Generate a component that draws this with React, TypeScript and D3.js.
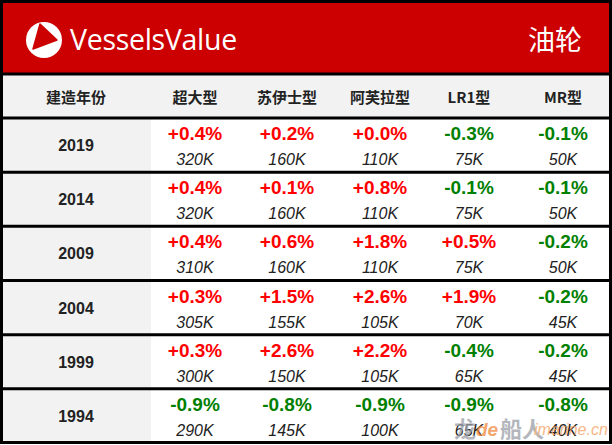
import React from "react";
import * as d3 from "d3";

const years = ["2019", "2014", "2009", "2004", "1999", "1994"];
const columns = ["超大型", "苏伊士型", "阿芙拉型", "LR1型", "MR型"];
const pctChange = [
  [0.4, 0.2, 0.0, -0.3, -0.1],
  [0.4, 0.1, 0.8, -0.1, -0.1],
  [0.4, 0.6, 1.8, 0.5, -0.2],
  [0.3, 1.5, 2.6, 1.9, -0.2],
  [0.3, 2.6, 2.2, -0.4, -0.2],
  [-0.9, -0.8, -0.9, -0.9, -0.8],
];
const valuesK = [
  [320, 160, 110, 75, 50],
  [320, 160, 110, 75, 50],
  [310, 160, 110, 75, 50],
  [305, 155, 105, 70, 45],
  [300, 150, 105, 65, 45],
  [290, 145, 100, 65, 40],
];
const yearHeader = "建造年份";
const title = "油轮";
const brand = "VesselsValue";

const W = 612;
const H = 445;

export default function App() {
  const rowY = d3.scaleBand<string>().domain(years).range([118, 443]).paddingInner(0);
  const colCenters = [195, 287, 380, 469, 563];
  const colX = d3.scaleOrdinal<string, number>().domain(columns).range(colCenters);
  const rh = rowY.bandwidth();
  const cjk = "'Noto Sans CJK SC', 'Noto Sans', sans-serif";
  const arial = "'Liberation Sans', Arial, sans-serif";
  const fmtPct = (v: number) => (v >= 0 ? "+" : "-") + d3.format(".1f")(Math.abs(v)) + "%";

  return (
    <svg width={W} height={H} style={{ position: "absolute", left: 0, top: 0 }}>
      <rect x={0} y={0} width={W} height={H} fill="#ffffff" />
      {/* red banner */}
      <rect x={0} y={0} width={W} height={74} fill="#cc0000" />
      {/* header row */}
      <rect x={0} y={74} width={W} height={44} fill="#f2f2f2" />
      {/* left gray column */}
      <rect x={0} y={118} width={151} height={325} fill="#f2f2f2" />
      {/* logo */}
      <circle cx={44} cy={40} r={18} fill="#ffffff" />
      <path d="M40,24 L57,40 L33,49 Z" fill="#cc0000" stroke="#cc0000" strokeWidth={1.5} strokeLinejoin="round" />
      <text x={70} y={50} fill="#ffffff" fontFamily="'Open Sans', 'Noto Sans', sans-serif" fontSize={28.5} letterSpacing={-0.3}>
        {brand}
      </text>
      <text x={582} y={50} textAnchor="end" fill="#ffffff" fontFamily={cjk} fontSize={27}>
        {title}
      </text>
      {/* header labels */}
      <text x={76} y={103} textAnchor="middle" fill="#222" fontFamily={cjk} fontWeight="bold" fontSize={15}>
        {yearHeader}
      </text>
      {columns.map((c) => (
        <text key={c} x={colX(c)} y={103} textAnchor="middle" fill="#222" fontFamily={cjk} fontWeight="bold" fontSize={15}>
          {c}
        </text>
      ))}
      {/* rows */}
      {years.map((yr, i) => {
        const y0 = rowY(yr)!;
        return (
          <g key={yr}>
            <text x={76} y={y0 + rh / 2 + 6} textAnchor="middle" fill="#222" fontFamily={arial} fontWeight="bold" fontSize={16}>
              {yr}
            </text>
            {columns.map((c, j) => {
              const v = pctChange[i][j];
              return (
                <g key={c}>
                  <text x={colX(c)} y={y0 + 22} textAnchor="middle" fill={v >= 0 ? "#ff0000" : "#008000"} fontFamily={arial} fontWeight="bold" fontSize={19}>
                    {fmtPct(v)}
                  </text>
                  <text x={colX(c)} y={y0 + 47} textAnchor="middle" fill="#222" fontFamily={arial} fontStyle="italic" fontSize={16}>
                    {valuesK[i][j] + "K"}
                  </text>
                </g>
              );
            })}
          </g>
        );
      })}
      {/* grid lines */}
      <line x1={0} x2={W} y1={74} y2={74} stroke="#000" strokeWidth={3} />
      {years.map((yr) => (
        <line key={"l" + yr} x1={0} x2={W} y1={rowY(yr)!} y2={rowY(yr)!} stroke="#000" strokeWidth={3} />
      ))}
      <rect x={1.5} y={1.5} width={W - 3} height={441} fill="none" stroke="#000" strokeWidth={3} />
      {/* watermark */}
      <g opacity={0.75}>
        <text x={454} y={437} fill="#9aa0a8" fontFamily={cjk} fontWeight="bold" fontSize={22}>龙</text>
        <text x={476} y={436} fill="#f08a3c" fontFamily={arial} fontWeight="bold" fontStyle="italic" fontSize={19}>de</text>
        <text x={500} y={437} fill="#9aa0a8" fontFamily={cjk} fontWeight="bold" fontSize={22}>船人</text>
        <text x={534} y={435} fill="#f5a060" fontFamily={arial} fontStyle="italic" fontSize={16}>imarine.cn</text>
      </g>
    </svg>
  );
}
